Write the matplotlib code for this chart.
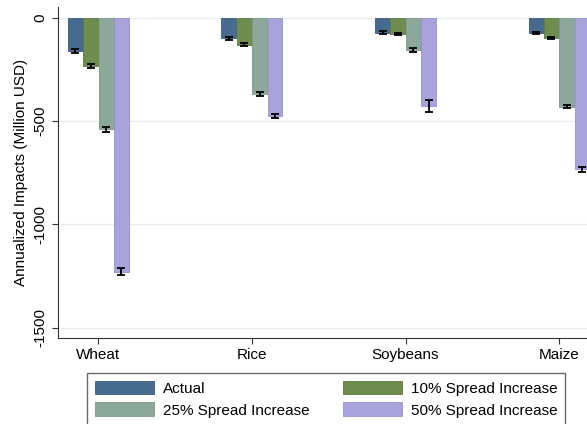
import numpy as np
import matplotlib
matplotlib.use("Agg")
import matplotlib.pyplot as plt

plt.rcParams['font.family'] = ['Liberation Sans', 'DejaVu Sans']
plt.rcParams['axes.unicode_minus'] = False

# data
crops = ["Wheat", "Rice", "Soybeans", "Maize"]
series = ["Actual", "10% Spread Increase", "25% Spread Increase", "50% Spread Increase"]
actual = [-160, -100, -72, -72]
spread10 = [-233, -130, -78, -100]
spread25 = [-540, -370, -156, -430]
spread50 = [-1229, -474, -428, -733]
err_actual = [9, 7, 6, 5]
err_10 = [10, 8, 6, 5]
err_25 = [12, 9, 8, 9]
err_50 = [16, 10, 30, 12]

colors = ["#476a8f", "#6f8d4f", "#8ba89a", "#a9a3dc"]
edges = ["#3a5a7c", "#5d7a40", "#7a978a", "#9690cc"]

values = [actual, spread10, spread25, spread50]
errors = [err_actual, err_10, err_25, err_50]

fig = plt.figure(figsize=(5.87, 4.24), dpi=100)
ax = fig.add_axes([58 / 587, 1 - 337.7 / 424, 541.5 / 587, (337.7 - 7) / 424])

x = np.arange(len(crops))
w = 0.1
offsets = [-1.5 * w, -0.5 * w, 0.5 * w, 1.5 * w]
handles = []
for i in range(4):
    b = ax.bar(x + offsets[i], values[i], width=w * 0.97, color=colors[i],
               edgecolor=edges[i], linewidth=0.6, label=series[i], zorder=2)
    ax.errorbar(x + offsets[i], values[i], yerr=errors[i], fmt='none',
                ecolor='black', elinewidth=1.3, capsize=2.6, capthick=1.3, zorder=3)
    handles.append(b)

ax.set_xlim(-0.263, 3.263)
ax.set_ylim(-1548, 52)
ax.set_yticks([0, -500, -1000, -1500])
ax.set_yticklabels(["0", "-500", "-1000", "-1500"], rotation=90, va='center', fontsize=11)
ax.set_xticks(x)
ax.set_xticklabels(crops, fontsize=11)
ax.set_ylabel("Annualized Impacts (Million USD)", fontsize=11)
ax.yaxis.grid(True, color='#e6eef0', linewidth=1.0, zorder=0)
ax.set_axisbelow(True)
for s in ['top', 'right']:
    ax.spines[s].set_visible(False)
ax.spines['left'].set_color('#333333')
ax.spines['bottom'].set_color('#333333')
ax.tick_params(axis='both', length=4, color='#333333')

# legend order: row1 Actual, 10%; row2 25%, 50%
order = [0, 2, 1, 3]
leg = fig.legend([handles[i] for i in order], [series[i] for i in order],
                 loc='upper left', bbox_to_anchor=(87 / 587, 1 - 373 / 424),
                 ncol=2, fontsize=11, frameon=True, fancybox=False,
                 handlelength=3.9, handleheight=1.0, handletextpad=0.55,
                 columnspacing=2.2, labelspacing=0.44, borderaxespad=0,
                 borderpad=0.5)
leg.get_frame().set_edgecolor('#444444')
leg.get_frame().set_linewidth(1.0)

fig.savefig("out.png", dpi=100)
